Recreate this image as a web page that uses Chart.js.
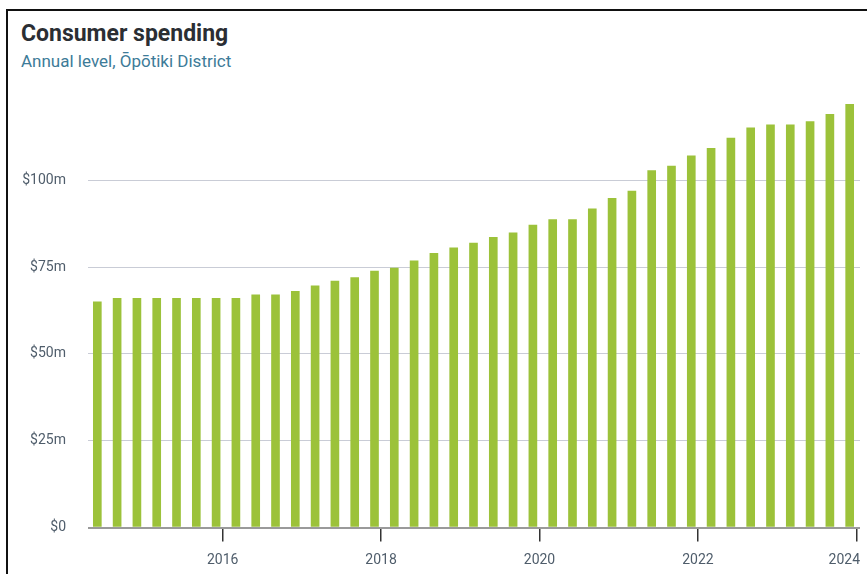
<!DOCTYPE html>
<html>
<head>
<meta charset="utf-8">
<script src="https://cdn.jsdelivr.net/npm/chart.js@4.4.1/dist/chart.umd.min.js"></script>
<style>
    html, body { margin: 0; padding: 0; background: #fff; }
    body { width: 867px; height: 574px; position: relative; overflow: hidden; font-family: Roboto, sans-serif; }
    .frame { position: absolute; left: 6px; top: 9px; width: 900px; height: 600px; border-left: 2px solid #111; border-top: 2px solid #111; }
    .title { position: absolute; left: 21px; top: 20px; font-size: 23px; font-weight: bold; color: #2b2e33; white-space: nowrap; }
    .subtitle { position: absolute; left: 21px; top: 51px; font-size: 17px; color: #3d7b98; white-space: nowrap; }
    #chart-wrap { position: absolute; left: 0; top: 0; width: 867px; height: 574px; }
</style>
</head>
<body>
<div class="frame"></div>
<div class="title">Consumer spending</div>
<div class="subtitle">Annual level, Ōpōtiki District</div>
<div id="chart-wrap"><canvas id="spending-chart"></canvas></div>

<script>
// year-to quarters (month the year ends in)
const quarters = [
    "2014-06", "2014-09", "2014-12",
    "2015-03", "2015-06", "2015-09", "2015-12",
    "2016-03", "2016-06", "2016-09", "2016-12",
    "2017-03", "2017-06", "2017-09", "2017-12",
    "2018-03", "2018-06", "2018-09", "2018-12",
    "2019-03", "2019-06", "2019-09", "2019-12",
    "2020-03", "2020-06", "2020-09", "2020-12",
    "2021-03", "2021-06", "2021-09", "2021-12",
    "2022-03", "2022-06", "2022-09", "2022-12",
    "2023-03", "2023-06", "2023-09", "2023-12"
]
// $m
const spending = [
    65.0, 66.0, 66.0,
    66.0, 66.0, 66.0, 66.0,
    66.0, 67.0, 67.0, 68.0,
    69.6, 71.0, 72.0, 73.9,
    74.7, 76.8, 79.0, 80.6,
    81.9, 83.6, 84.9, 87.1,
    88.7, 88.7, 91.8, 94.8,
    96.9, 102.8, 104.1, 107.1,
    109.2, 112.2, 115.1, 116.0,
    116.0, 116.9, 119.0, 121.9
]
const yearTicks = [2016, 2018, 2020, 2022, 2024]
const valueTicks = [0, 25, 50, 75, 100]

document.addEventListener('DOMContentLoaded', () => {
    drawChart()
})

function toYear(q) {
    const [y, m] = q.split('-').map(Number)
    return y + (m - 1) / 12
}

// year labels under the ticks, last one kept inside the plot edge
const yearLabels = {
    id: 'yearLabels',
    afterDraw(chart) {
        const x = chart.scales.x
        const c = chart.ctx
        c.save()
        c.font = '14px Roboto'
        c.fillStyle = '#4f5d6b'
        c.textBaseline = 'middle'
        c.textAlign = 'center'
        yearTicks.forEach(v => {
            const txt = String(v)
            const w = c.measureText(txt).width
            let px = x.getPixelForValue(v)
            px = Math.min(px, chart.chartArea.right - w / 2)
            c.fillText(txt, px, 560)
        })
        c.restore()
    }
}

function drawChart() {
    const ctx = document.getElementById('spending-chart').getContext('2d')

    const points = quarters.map((q, i) => ({ x: toYear(q), y: spending[i] }))

    new Chart(ctx, {
        type: 'bar',
        data: {
            datasets: [{
                label: 'Consumer spending',
                data: points,
                backgroundColor: '#9cc23a',
                barThickness: 8
            }]
        },
        plugins: [yearLabels],
        options: {
            responsive: true,
            maintainAspectRatio: false,
            animation: false,
            layout: { padding: { top: 104, right: 7, bottom: 0, left: 0 } },
            plugins: {
                legend: { display: false },
                tooltip: { enabled: false }
            },
            scales: {
                x: {
                    type: 'linear',
                    offset: false,
                    min: 2014.299,
                    max: 2024.047,
                    afterBuildTicks: (scale) => {
                        scale.ticks = yearTicks.map(v => ({ value: v }))
                    },
                    afterFit: (scale) => {
                        scale.height = 46.5
                        scale.paddingLeft = 0
                        scale.paddingRight = 0
                    },
                    grid: {
                        offset: false,
                        drawOnChartArea: false,
                        drawTicks: true,
                        tickLength: 14,
                        color: '#333',
                        lineWidth: 1.5
                    },
                    border: { display: false },
                    ticks: { display: false }
                },
                y: {
                    min: 0,
                    max: 122,
                    afterBuildTicks: (scale) => {
                        scale.ticks = valueTicks.map(v => ({ value: v }))
                    },
                    afterFit: (scale) => { scale.width = 88 },
                    grid: {
                        drawTicks: false,
                        color: (c) => c.tick && c.tick.value === 0 ? '#9a9a9a' : '#c9ccd6',
                        lineWidth: (c) => c.tick && c.tick.value === 0 ? 2 : 1
                    },
                    border: { display: false },
                    ticks: {
                        padding: 22,
                        color: '#4f5d6b',
                        font: { family: 'Roboto', size: 14 },
                        callback: (v) => '$' + v + (v === 0 ? '' : 'm')
                    }
                }
            }
        }
    })
}
</script>
</body>
</html>
